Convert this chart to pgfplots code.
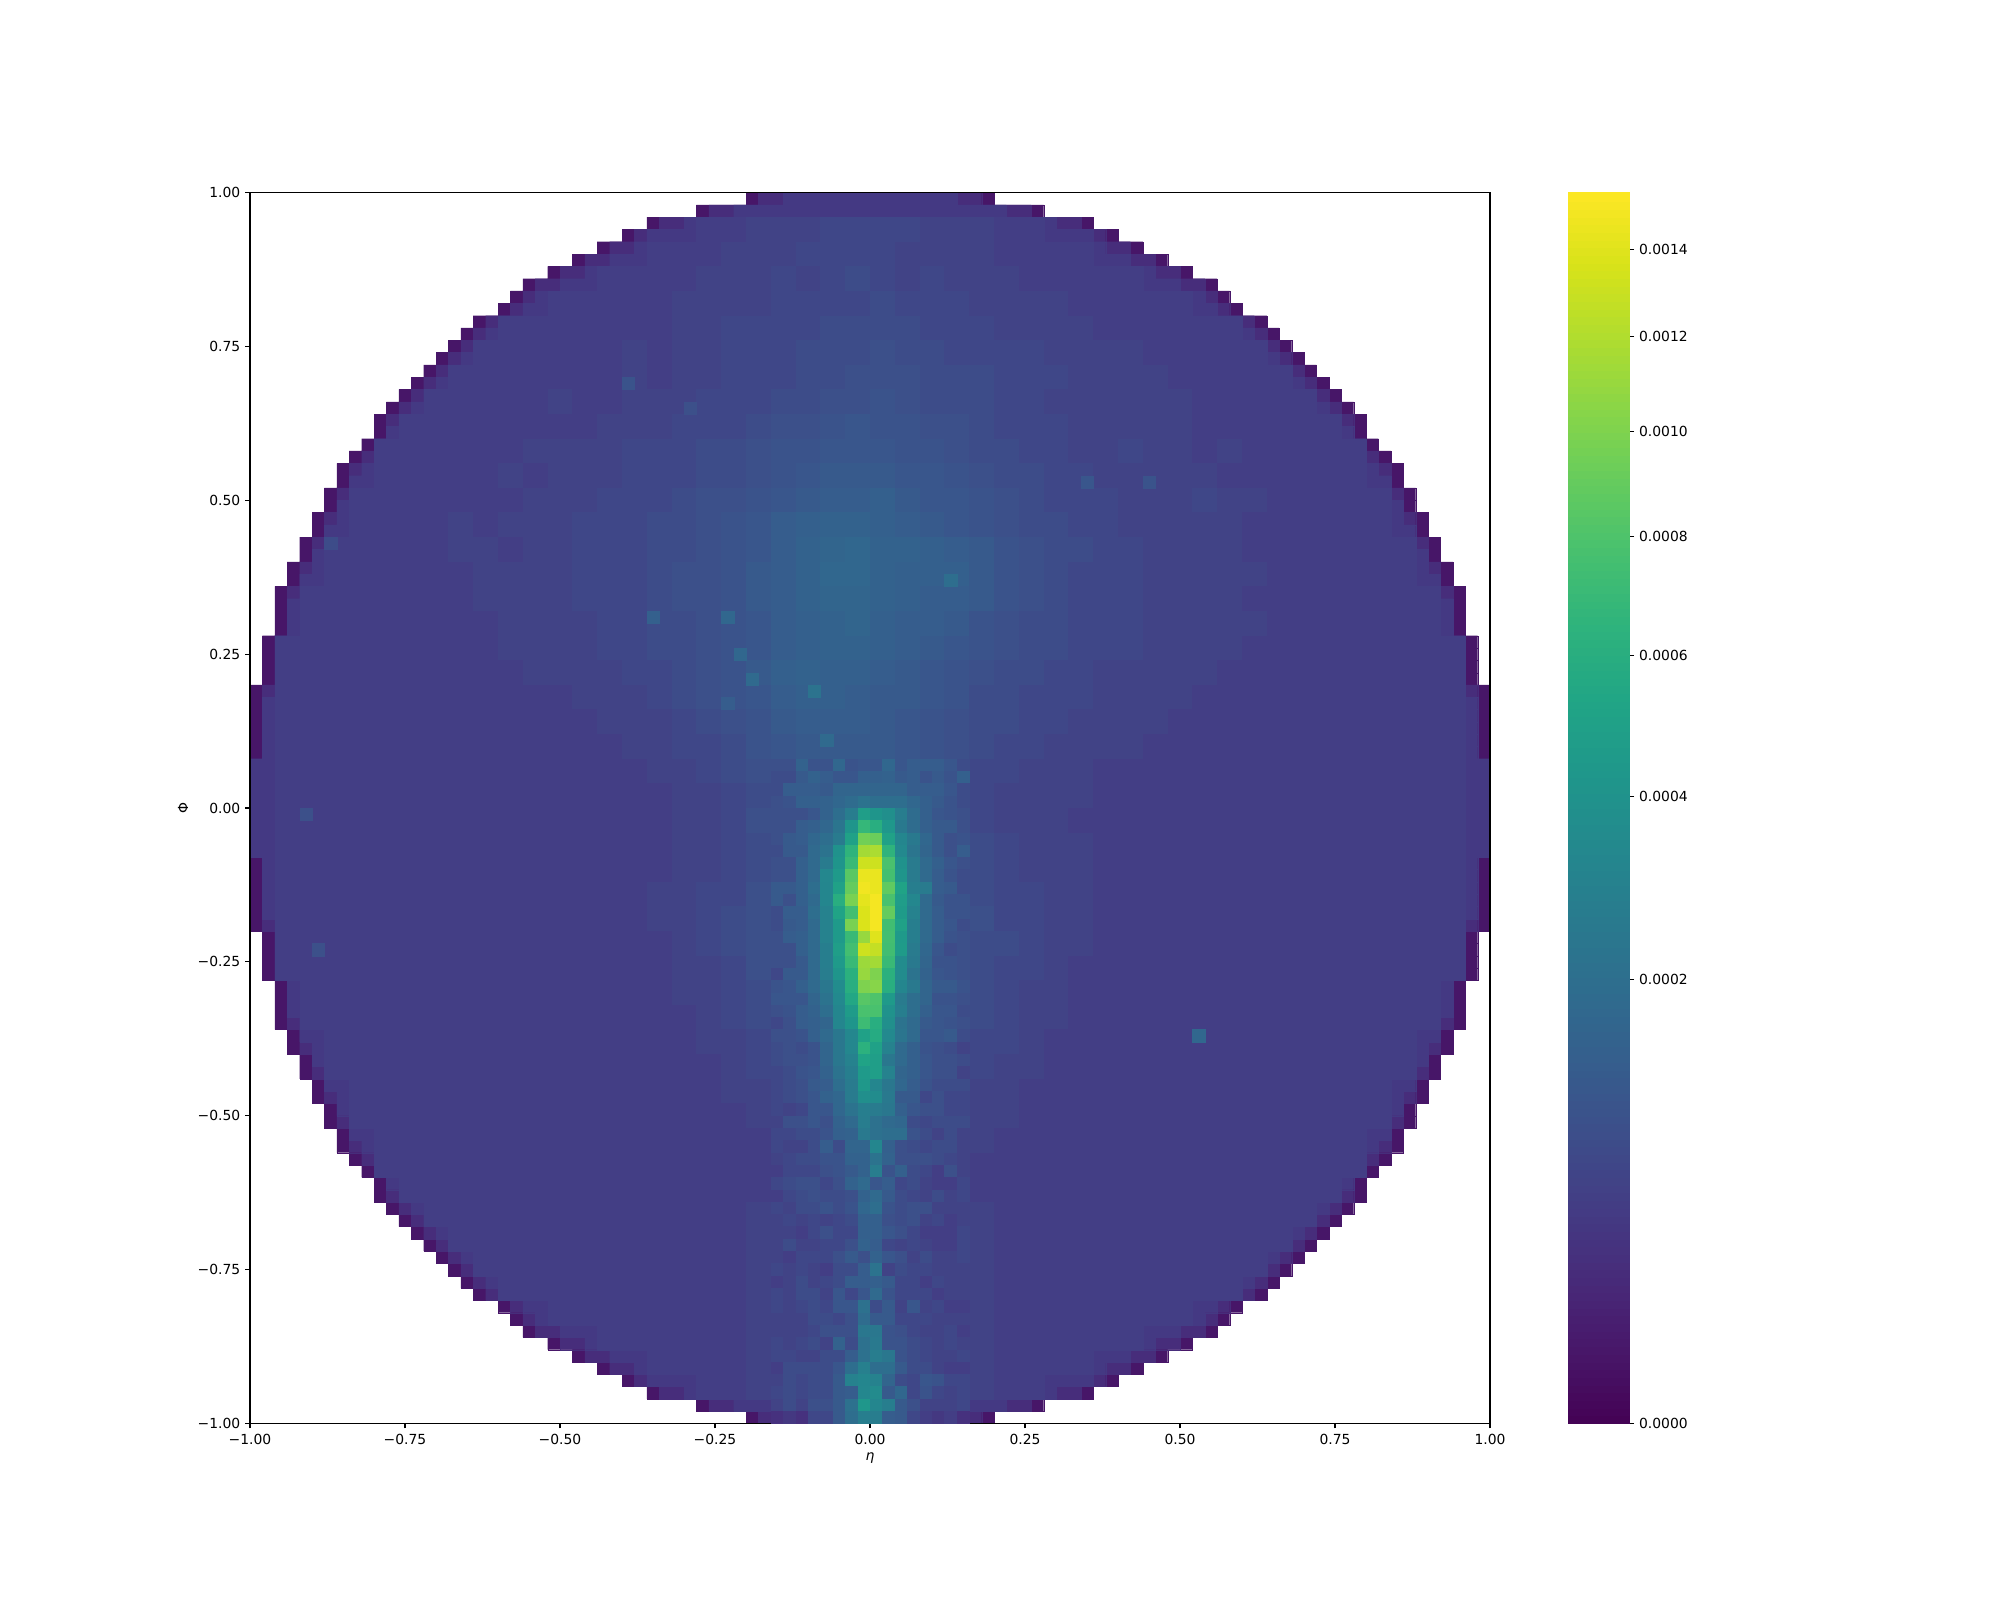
\documentclass[border=0pt]{standalone}
\usepackage{pgfplots}
\usepackage{pgfplotstable}
\usepackage{fontspec}
\setmainfont{DejaVu Sans}
\pgfplotsset{compat=1.18}
\definecolor{rimA}{HTML}{471668}
\definecolor{rimB}{HTML}{472D7B}
\definecolor{rimC}{HTML}{443983}
% disc extent per row: row centre y, outer extent e, inner extent i
\pgfplotstableread{
y e i
0.01 1.00 1.00
0.03 1.00 1.00
0.05 1.00 1.00
0.07 1.00 1.00
0.09 1.00 0.98
0.11 1.00 0.98
0.13 1.00 0.98
0.15 1.00 0.98
0.17 1.00 0.98
0.19 1.00 0.96
0.21 0.98 0.96
0.23 0.98 0.96
0.25 0.98 0.96
0.27 0.98 0.96
0.29 0.96 0.94
0.31 0.96 0.94
0.33 0.96 0.94
0.35 0.96 0.92
0.37 0.94 0.92
0.39 0.94 0.90
0.41 0.92 0.90
0.43 0.92 0.88
0.45 0.90 0.88
0.47 0.90 0.86
0.49 0.88 0.86
0.51 0.88 0.84
0.53 0.86 0.84
0.55 0.86 0.82
0.57 0.84 0.80
0.59 0.82 0.80
0.61 0.80 0.78
0.63 0.80 0.76
0.65 0.78 0.74
0.67 0.76 0.72
0.69 0.74 0.70
0.71 0.72 0.68
0.73 0.70 0.66
0.75 0.68 0.64
0.77 0.66 0.62
0.79 0.64 0.60
0.81 0.60 0.56
0.83 0.58 0.54
0.85 0.56 0.50
0.87 0.52 0.46
0.89 0.48 0.42
0.91 0.44 0.38
0.93 0.40 0.36
0.95 0.36 0.30
0.97 0.28 0.22
0.99 0.20 0.14
}\disc
% background density, units of 1e-5, cells of 0.04, rows from phi=0.94 to -0.94; 0 = outside
\pgfplotstableread[header=false]{
0 0 0 0 0 0 0 0 0 0 0 0 0 0 0 0 0 5 5 6 6 6 7 7 7 7 6 6 6 5 5 0 0 0 0 0 0 0 0 0 0 0 0 0 0 0 0 0
0 0 0 0 0 0 0 0 0 0 0 0 0 0 0 5 5 5 6 6 6 7 7 7 7 6 6 6 6 5 5 5 5 0 0 0 0 0 0 0 0 0 0 0 0 0 0 0
0 0 0 0 0 0 0 0 0 0 0 0 0 5 5 5 5 6 6 6 7 6 7 8 7 6 7 6 6 6 5 5 5 5 5 0 0 0 0 0 0 0 0 0 0 0 0 0
0 0 0 0 0 0 0 0 0 0 0 5 5 5 5 5 6 6 6 6 7 7 7 7 8 7 7 7 6 6 6 6 5 5 5 5 5 0 0 0 0 0 0 0 0 0 0 0
0 0 0 0 0 0 0 0 0 5 5 5 5 5 5 5 6 6 7 7 7 7 8 8 8 8 7 7 7 6 6 6 6 5 5 5 5 5 5 0 0 0 0 0 0 0 0 0
0 0 0 0 0 0 0 0 5 5 5 5 5 5 6 5 6 6 7 7 7 8 8 8 9 8 8 7 7 7 7 6 6 6 6 5 5 5 5 5 0 0 0 0 0 0 0 0
0 0 0 0 0 0 0 5 5 5 5 5 5 5 6 5 6 6 7 7 7 8 8 9 9 9 8 8 8 7 7 7 6 6 6 6 5 5 5 5 5 0 0 0 0 0 0 0
0 0 0 0 0 0 5 5 5 5 5 6 5 5 6 6 6 7 7 7 8 8 9 9 10 9 8 8 8 7 7 6 6 6 6 6 6 5 5 5 5 5 0 0 0 0 0 0
0 0 0 0 0 5 5 5 5 5 5 5 5 6 6 6 7 7 7 8 9 9 10 11 10 10 9 9 8 7 7 7 6 6 6 6 6 5 5 5 5 5 5 0 0 0 0 0
0 0 0 0 5 5 5 5 5 5 6 6 6 6 7 7 7 8 8 9 10 10 11 11 11 10 10 9 8 8 7 7 6 6 7 6 6 5 6 5 5 5 5 5 0 0 0 0
0 0 0 0 5 5 5 5 5 6 5 6 6 6 7 7 7 8 8 9 10 11 12 12 12 11 11 10 9 8 8 7 7 6 6 6 6 6 5 5 5 5 5 5 0 0 0 0
0 0 0 5 5 5 5 5 5 5 6 6 6 7 7 7 8 9 9 10 11 12 13 13 14 12 11 11 10 9 8 7 7 7 6 6 6 7 6 6 5 5 5 5 5 0 0 0
0 0 0 5 5 5 5 6 5 6 6 6 7 7 7 8 8 9 10 11 13 14 15 15 14 13 12 11 10 9 8 8 7 7 6 6 6 6 6 5 5 5 5 5 5 0 0 0
0 0 5 5 5 5 5 6 6 5 6 6 7 7 7 8 8 9 10 11 13 15 16 17 15 15 14 13 12 10 9 8 8 7 7 6 6 6 6 5 5 5 5 5 5 5 0 0
0 0 5 5 5 5 5 5 6 6 6 6 7 7 7 8 9 9 10 12 13 15 17 17 15 14 14 14 12 10 9 8 7 7 7 6 6 6 6 6 5 5 5 5 5 5 0 0
0 5 5 5 5 5 5 5 6 6 6 6 7 7 7 8 9 9 10 12 13 15 16 16 15 14 13 13 12 10 9 8 7 7 7 6 6 6 6 5 5 5 5 5 5 5 5 0
0 5 5 5 5 5 5 5 5 6 6 6 6 7 7 8 8 9 10 11 13 14 15 16 14 13 13 12 10 9 8 8 7 7 7 6 6 6 6 6 5 5 5 5 5 5 5 0
5 5 5 5 5 5 5 5 5 6 6 6 6 7 7 8 8 9 10 11 13 14 15 15 14 13 12 11 10 9 8 8 7 7 7 6 6 6 6 5 5 5 5 5 5 5 5 5
5 5 5 5 5 5 5 5 5 5 6 6 6 6 7 7 8 9 10 12 14 15 14 14 13 12 11 10 9 8 8 7 7 6 6 6 6 6 5 5 5 5 5 5 5 5 5 5
5 5 5 5 5 5 5 5 5 5 5 5 6 6 6 7 8 9 10 11 13 14 14 13 12 12 11 10 8 8 7 7 7 6 6 6 6 5 5 5 5 5 5 5 5 5 5 5
5 5 5 5 5 5 5 5 5 5 5 5 5 6 6 6 7 8 9 10 12 13 13 13 12 11 10 9 8 8 7 7 6 6 6 6 5 5 5 5 5 5 5 5 5 5 5 5
5 5 5 5 5 5 5 5 5 5 5 5 5 5 6 6 7 7 8 10 11 12 12 12 12 11 10 9 8 7 7 6 6 6 6 5 5 5 5 5 5 5 5 5 5 5 5 5
5 5 5 5 5 5 5 5 5 5 5 5 5 5 5 6 6 7 8 9 10 11 11 11 11 11 10 8 7 7 6 6 6 5 5 5 5 5 5 5 5 5 5 5 5 5 5 5
5 5 5 5 5 5 5 5 5 5 5 5 5 5 5 5 6 6 7 8 10 11 11 11 11 10 9 8 7 6 6 6 6 5 5 5 5 5 5 5 5 5 5 5 5 5 5 5
5 5 5 5 5 5 5 5 5 5 5 5 5 5 5 5 6 6 7 9 9 9 9 9 9 9 9 9 7 6 6 6 5 5 5 5 5 5 5 5 5 5 5 5 5 5 5 5
5 5 5 5 5 5 5 5 5 5 5 5 5 5 5 5 6 6 7 8 9 9 9 9 9 9 9 9 8 7 6 6 6 5 5 5 5 5 5 5 5 5 5 5 5 5 5 5
5 5 5 5 5 5 5 5 5 5 5 5 5 5 5 5 6 6 7 8 9 9 9 9 9 9 9 9 8 7 6 6 6 5 5 5 5 5 5 5 5 5 5 5 5 5 5 5
5 5 5 5 5 5 5 5 5 5 5 5 5 5 5 6 6 7 7 9 9 9 9 9 9 9 9 9 8 7 7 6 6 5 5 5 5 5 5 5 5 5 5 5 5 5 5 5
5 5 5 5 5 5 5 5 5 5 5 5 5 5 5 6 6 7 8 9 9 9 9 9 9 9 9 9 9 7 7 6 6 5 5 5 5 5 5 5 5 5 5 5 5 5 5 5
5 5 5 5 5 5 5 5 5 5 5 5 5 5 5 5 6 7 8 9 9 9 9 9 9 9 9 9 8 8 7 6 6 5 5 5 5 5 5 5 5 5 5 5 5 5 5 5
5 5 5 5 5 5 5 5 5 5 5 5 5 5 5 5 6 6 7 9 9 9 9 9 9 9 9 9 8 7 7 6 5 5 5 5 5 5 5 5 5 5 5 5 5 5 5 5
0 5 5 5 5 5 5 5 5 5 5 5 5 5 5 5 6 6 7 8 9 9 9 9 9 9 9 9 8 7 6 6 5 5 5 5 5 5 5 5 5 5 5 5 5 5 5 0
0 5 5 5 5 5 5 5 5 5 5 5 5 5 5 5 5 6 7 8 9 9 9 9 9 9 9 9 8 7 6 6 5 5 5 5 5 5 5 5 5 5 5 5 5 5 5 0
0 0 5 5 5 5 5 5 5 5 5 5 5 5 5 5 5 6 6 7 9 9 9 9 9 9 9 9 7 7 6 5 5 5 5 5 5 5 5 5 5 5 5 5 5 5 0 0
0 0 5 5 5 5 5 5 5 5 5 5 5 5 5 5 5 5 6 7 9 9 9 9 9 9 9 9 7 6 6 5 5 5 5 5 5 5 5 5 5 5 5 5 5 5 0 0
0 0 0 5 5 5 5 5 5 5 5 5 5 5 5 5 5 5 6 6 8 8 8 8 8 8 8 8 6 6 5 5 5 5 5 5 5 5 5 5 5 5 5 5 5 0 0 0
0 0 0 5 5 5 5 5 5 5 5 5 5 5 5 5 5 5 5 6 8 8 8 8 8 8 8 8 6 6 5 5 5 5 5 5 5 5 5 5 5 5 5 5 5 0 0 0
0 0 0 0 5 5 5 5 5 5 5 5 5 5 5 5 5 5 5 5 8 8 8 8 8 8 8 8 6 5 5 5 5 5 5 5 5 5 5 5 5 5 5 5 0 0 0 0
0 0 0 0 5 5 5 5 5 5 5 5 5 5 5 5 5 5 5 5 8 8 8 8 8 8 8 8 5 5 5 5 5 5 5 5 5 5 5 5 5 5 5 5 0 0 0 0
0 0 0 0 0 5 5 5 5 5 5 5 5 5 5 5 5 5 5 5 8 8 8 8 8 8 8 8 5 5 5 5 5 5 5 5 5 5 5 5 5 5 5 0 0 0 0 0
0 0 0 0 0 0 5 5 5 5 5 5 5 5 5 5 5 5 5 6 8 8 8 8 8 8 8 8 6 5 5 5 5 5 5 5 5 5 5 5 5 5 0 0 0 0 0 0
0 0 0 0 0 0 0 5 5 5 5 5 5 5 5 5 5 5 5 6 8 8 8 8 8 8 8 8 6 5 5 5 5 5 5 5 5 5 5 5 5 0 0 0 0 0 0 0
0 0 0 0 0 0 0 0 5 5 5 5 5 5 5 5 5 5 5 6 8 8 8 8 8 8 8 8 6 5 5 5 5 5 5 5 5 5 5 5 0 0 0 0 0 0 0 0
0 0 0 0 0 0 0 0 0 5 5 5 5 5 5 5 5 5 5 6 8 8 8 8 8 8 8 8 6 5 5 5 5 5 5 5 5 5 5 0 0 0 0 0 0 0 0 0
0 0 0 0 0 0 0 0 0 0 0 5 5 5 5 5 5 5 5 6 8 8 8 8 8 8 8 8 6 5 5 5 5 5 5 5 5 0 0 0 0 0 0 0 0 0 0 0
0 0 0 0 0 0 0 0 0 0 0 0 0 5 5 5 5 5 5 6 8 8 8 8 8 8 8 8 6 5 5 5 5 5 5 0 0 0 0 0 0 0 0 0 0 0 0 0
0 0 0 0 0 0 0 0 0 0 0 0 0 0 0 5 5 5 5 6 8 8 8 8 8 8 8 8 6 5 5 5 5 0 0 0 0 0 0 0 0 0 0 0 0 0 0 0
0 0 0 0 0 0 0 0 0 0 0 0 0 0 0 0 0 5 5 6 8 8 8 8 8 8 8 8 6 5 5 0 0 0 0 0 0 0 0 0 0 0 0 0 0 0 0 0
}\coarse
% central plume, units of 1e-5, cells of 0.02, x from -0.15 to 0.15, rows from phi=0.07 to -0.99
\pgfplotstableread[header=false]{
9 9 15 10 10 17 10 11 11 17 11 13 13 13 11 8
8 8 12 15 13 11 11 14 14 15 12 13 10 12 10 14
8 13 13 13 12 16 16 16 16 16 16 13 13 13 11 8
9 10 14 14 15 17 19 22 20 20 20 17 14 12 10 8
9 9 9 11 15 20 27 48 42 38 27 19 14 11 10 9
9 9 13 14 17 23 42 68 60 43 25 19 14 12 12 9
9 12 13 17 20 26 50 95 92 50 32 25 17 12 9 10
8 12 12 18 22 40 65 115 118 65 34 23 16 12 9 13
9 9 14 18 26 42 70 132 132 78 40 26 18 14 11 9
9 9 14 18 33 45 85 145 145 76 42 26 18 13 10 8
12 12 14 20 32 50 90 148 145 88 52 28 26 13 12 8
12 9 14 18 32 60 98 142 150 78 47 33 18 12 10 10
8 13 13 20 30 52 75 138 150 90 46 30 18 13 10 10
8 12 13 18 30 45 98 138 150 74 50 28 18 13 11 8
9 13 14 18 30 45 70 110 140 75 45 28 18 13 10 9
9 9 14 18 28 48 75 132 128 74 46 26 17 11 8 9
9 9 12 18 28 45 70 112 115 70 36 25 16 10 10 9
7 12 12 18 27 42 62 110 100 62 36 22 15 11 10 9
10 11 14 18 24 36 60 100 104 60 32 25 16 12 12 10
11 11 11 16 22 34 55 84 80 45 26 20 16 10 10 9
9 10 13 15 20 32 46 78 78 40 28 20 14 11 11 8
7 9 13 14 16 32 42 72 60 38 22 18 12 11 10 9
9 9 10 14 18 24 33 50 58 34 23 18 11 11 12 8
8 9 8 10 16 24 33 63 50 30 18 14 10 9 8 6
8 9 9 10 16 24 30 52 48 24 18 14 11 9 9 8
7 8 10 11 15 22 28 45 48 30 16 14 11 9 9 6
7 8 9 12 13 20 26 44 32 24 17 13 10 8 8 8
7 8 9 11 15 17 26 38 36 25 12 12 7 9 7 7
7 6 7 11 11 17 22 28 26 24 14 11 9 9 7 7
6 9 9 11 9 15 18 27 21 18 17 8 7 8 8 8
7 7 8 8 10 14 15 25 21 20 20 10 8 6 8 6
7 6 6 8 13 8 16 16 32 14 9 8 7 8 8 6
6 7 8 8 10 10 15 15 22 15 9 9 9 8 7 6
5 7 7 7 9 10 12 15 27 10 14 8 7 5 9 6
7 8 9 9 7 9 15 18 11 13 7 8 6 5 5 7
5 7 8 9 8 8 9 15 18 12 8 7 6 8 6 7
7 6 8 8 10 8 10 17 20 10 8 9 9 6 6 6
6 7 6 7 6 7 8 14 14 9 8 9 6 7 5 6
6 6 5 7 9 7 7 14 14 11 9 7 5 5 5 7
6 8 6 6 7 7 9 15 13 7 6 7 6 5 5 7
6 5 7 7 7 9 12 9 15 11 9 6 8 6 6 7
7 6 7 6 5 8 8 13 22 6 8 7 7 6 6 6
5 6 8 6 7 8 13 13 14 12 7 7 5 7 6 6
7 6 8 8 6 11 7 11 18 10 7 7 7 5 6 6
7 6 7 8 7 11 11 21 8 12 6 11 6 7 5 5
6 6 6 8 8 7 9 19 12 12 7 7 7 6 6 6
6 6 6 7 9 9 9 24 24 10 9 7 6 6 7 5
7 6 7 8 6 15 8 21 25 10 10 8 7 6 7 6
7 7 6 6 8 8 13 21 27 24 10 8 7 6 6 7
5 8 8 8 8 11 20 29 20 20 12 8 8 6 5 5
6 8 7 8 8 12 30 32 30 16 8 7 11 10 7 7
7 8 7 8 8 12 13 33 35 12 17 7 10 7 6 7
6 8 6 9 9 12 21 43 32 28 12 9 6 6 6 7
3 4 3 7 7 12 20 28 27 13 12 7 5 4 5 3
}\fine
% single cells that stand out
\pgfplotstableread{
x y v
0.53 -0.37 17
-0.23 0.31 17
-0.35 0.31 14
-0.21 0.25 17
-0.19 0.21 18
-0.39 0.69 10
-0.29 0.65 9
-0.87 0.43 8
-0.09 0.19 22
-0.23 0.17 13
0.35 0.53 11
0.45 0.53 10
-0.89 -0.23 9
-0.07 0.11 18
0.13 0.37 20
-0.91 -0.01 9
}\spots
\newcommand\rimlayer[2]{%
\addplot[xbar,bar shift=0pt,bar width=0.02,fill=#1,draw=#1,line width=0.1pt,forget plot] table[x expr={#2},y expr={\thisrow{y}}]{\disc};
\addplot[xbar,bar shift=0pt,bar width=0.02,fill=#1,draw=#1,line width=0.1pt,forget plot] table[x expr={-(#2)},y expr={\thisrow{y}}]{\disc};
\addplot[xbar,bar shift=0pt,bar width=0.02,fill=#1,draw=#1,line width=0.1pt,forget plot] table[x expr={#2},y expr={-\thisrow{y}}]{\disc};
\addplot[xbar,bar shift=0pt,bar width=0.02,fill=#1,draw=#1,line width=0.1pt,forget plot] table[x expr={-(#2)},y expr={-\thisrow{y}}]{\disc};
}
\pgfplotsset{cell/.style={scatter,only marks,mark=square*,forget plot,scatter src=explicit,
  scatter/use mapped color={draw=mapped color,fill=mapped color},
  mark options={yscale=0.9927,line width=0.1pt}}}
\begin{document}
\begin{tikzpicture}
\path[use as bounding box] (0pt,0pt) rectangle (1440pt,1152pt);
\begin{axis}[
  at={(180pt,127.08pt)},anchor=south west,
  scale only axis,width=892.8pt,height=886.3pt,
  xmin=-1,xmax=1,ymin=-1,ymax=1,
  axis on top,
  axis line style={line width=0.8pt},
  tick style={line width=0.8pt,black},
  major tick length=3.5pt,
  tick align=outside,
  xtick pos=bottom,ytick pos=left,
  xtick={-1,-0.75,-0.5,-0.25,0,0.25,0.5,0.75,1},
  ytick={-1,-0.75,-0.5,-0.25,0,0.25,0.5,0.75,1},
  xticklabels={−1.00,−0.75,−0.50,−0.25,0.00,0.25,0.50,0.75,1.00},
  yticklabels={−1.00,−0.75,−0.50,−0.25,0.00,0.25,0.50,0.75,1.00},
  tick label style={font=\fontsize{10pt}{12pt}\selectfont},
  xticklabel style={yshift=-0.5pt},
  xlabel={\textit{η}},
  ylabel={Φ},
  label style={font=\fontsize{10pt}{12pt}\selectfont},
  xlabel style={yshift=1pt},
  colormap/viridis,
  point meta min=0,point meta max=12.41,
]
\rimlayer{rimA}{\thisrow{e}}
\rimlayer{rimB}{\thisrow{e}-0.02}
\rimlayer{rimC}{\thisrow{i}}
\pgfplotsinvokeforeach{0,...,47}{
  \addplot[cell,mark size=8.928pt]
    table[x expr={-0.94+0.04*#1},y expr={\thisrowno{#1}>0 ? 0.94-0.04*\coordindex : -5},meta expr={sqrt(\thisrowno{#1})}]{\coarse};
}
\pgfplotsinvokeforeach{0,...,15}{
  \addplot[cell,mark size=4.464pt]
    table[x expr={-0.15+0.02*#1},y expr={0.07-0.02*\coordindex},meta expr={sqrt(\thisrowno{#1})}]{\fine};
}
\addplot[cell,mark size=4.464pt]
  table[x=x,y=y,meta expr={sqrt(\thisrow{v})}]{\spots};
\end{axis}
% colour bar
\begin{axis}[
  at={(1129.2pt,127.08pt)},anchor=south west,
  scale only axis,width=43.9pt,height=886.3pt,
  xmin=0,xmax=1,ymin=0,ymax=12.41,
  axis on top,
  axis line style={line width=0.8pt},
  tick style={line width=0.8pt,black},
  major tick length=3.5pt,
  tick align=outside,
  xtick=\empty,
  ytick pos=right,yticklabel pos=right,
  ytick={0,4.472,6.325,7.746,8.944,10,10.954,11.832},
  yticklabels={0.0000,0.0002,0.0004,0.0006,0.0008,0.0010,0.0012,0.0014},
  tick label style={font=\fontsize{10pt}{12pt}\selectfont},
  colormap/viridis,
  point meta min=0,point meta max=12.41,
]
\addplot[scatter,only marks,mark=square*,forget plot,scatter src=y,
  scatter/use mapped color={draw=mapped color,fill=mapped color},
  mark size=21.9pt,mark options={yscale=0.15,line width=0pt},
  domain=0.046:12.364,samples=160] ({0.5},{x});
\end{axis}
\end{tikzpicture}
\end{document}
